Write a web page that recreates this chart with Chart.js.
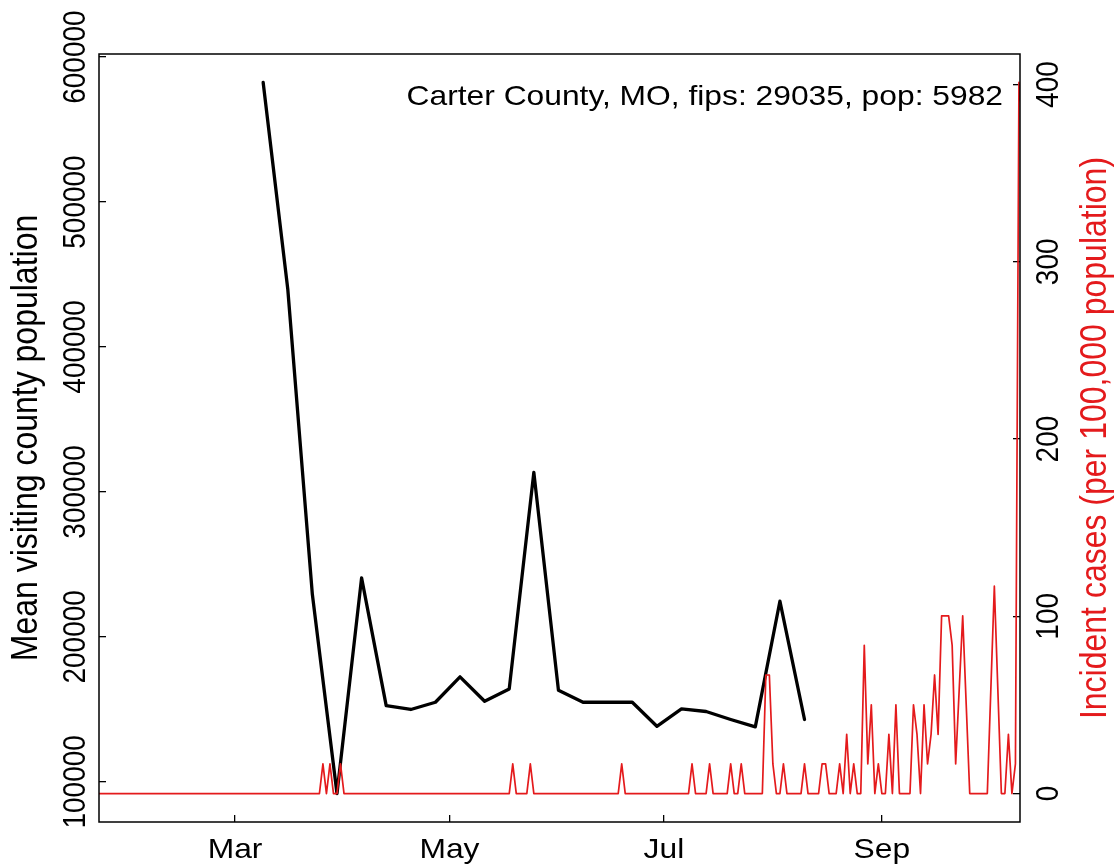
<!DOCTYPE html>
<html>
<head>
<meta charset="utf-8">
<script src="https://cdn.jsdelivr.net/npm/chart.js@4.4.1/dist/chart.umd.min.js"></script>
<style>
  html, body { margin: 0; padding: 0; background: #fff; }
  canvas { display: block; }
</style>
</head>
<body>
<canvas id="chart" width="1119" height="868"></canvas>
<script>
const countyLabel = 'Carter County, MO, fips: 29035, pop: 5982';
const leftTitle = 'Mean visiting county population';
const rightTitle = 'Incident cases (per 100,000 population)';

// weekly mean visiting county population (black line)
const visitDates = ['2020-03-09', '2020-03-16', '2020-03-23', '2020-03-30', '2020-04-06', '2020-04-13',
  '2020-04-20', '2020-04-27', '2020-05-04', '2020-05-11', '2020-05-18', '2020-05-25', '2020-06-01',
  '2020-06-08', '2020-06-15', '2020-06-22', '2020-06-29', '2020-07-06', '2020-07-13', '2020-07-20',
  '2020-07-27', '2020-08-03', '2020-08-10'];
const visitValues = [582500, 440000, 229200, 91900, 240700, 152600, 149900, 154900, 172400, 155600,
  164100, 313500, 163200, 154900, 154900, 154900, 138300, 150300, 148500, 143000, 137900, 224600, 143000];

// daily incident cases per 100k (red line), listed where the line changes
const caseDates = ['2020-01-22', '2020-03-25', '2020-03-26', '2020-03-27', '2020-03-28', '2020-03-29',
  '2020-03-30', '2020-03-31', '2020-04-01', '2020-05-18', '2020-05-19', '2020-05-20', '2020-05-23',
  '2020-05-24', '2020-05-25', '2020-06-18', '2020-06-19', '2020-06-20', '2020-07-08', '2020-07-09',
  '2020-07-10', '2020-07-13', '2020-07-14', '2020-07-15', '2020-07-19', '2020-07-20', '2020-07-21',
  '2020-07-22', '2020-07-23', '2020-07-24', '2020-07-29', '2020-07-30', '2020-07-31', '2020-08-01',
  '2020-08-02', '2020-08-03', '2020-08-04', '2020-08-05', '2020-08-09', '2020-08-10', '2020-08-11',
  '2020-08-14', '2020-08-15', '2020-08-16', '2020-08-17', '2020-08-19', '2020-08-20', '2020-08-21',
  '2020-08-22', '2020-08-23', '2020-08-24', '2020-08-25', '2020-08-26', '2020-08-27', '2020-08-28',
  '2020-08-29', '2020-08-30', '2020-08-31', '2020-09-01', '2020-09-02', '2020-09-03', '2020-09-04',
  '2020-09-05', '2020-09-06', '2020-09-09', '2020-09-10', '2020-09-11', '2020-09-12', '2020-09-13',
  '2020-09-14', '2020-09-15', '2020-09-16', '2020-09-17', '2020-09-18', '2020-09-19', '2020-09-20',
  '2020-09-21', '2020-09-22', '2020-09-23', '2020-09-24', '2020-09-25', '2020-09-26', '2020-10-01',
  '2020-10-02', '2020-10-03', '2020-10-04', '2020-10-05', '2020-10-06', '2020-10-07', '2020-10-08',
  '2020-10-09', '2020-10-10', '2020-10-11'];
const caseValues = [0, 0, 16.7, 0, 16.7, 0,
  0, 16.7, 0, 0, 16.7, 0, 0,
  16.7, 0, 0, 16.7, 0, 0, 16.7,
  0, 0, 16.7, 0, 0, 16.7, 0,
  0, 16.7, 0, 0, 66.9, 66.9, 16.7,
  0, 0, 16.7, 0, 0, 16.7, 0,
  0, 16.7, 16.7, 0, 0, 16.7, 0,
  33.4, 0, 16.7, 0, 0, 83.6, 16.7,
  50.1, 0, 16.7, 0, 0, 33.4, 0,
  50.1, 0, 0, 50.1, 33.4, 0, 50.1,
  16.7, 33.4, 66.9, 33.4, 100.3, 100.3, 100.3,
  83.6, 16.7, 58.5, 100.3, 50.1, 0, 0,
  58.5, 117, 58.5, 0, 0, 33.4, 0,
  16.7, 401.2, 380];

const monthTicks = ['2020-03-01', '2020-05-01', '2020-07-01', '2020-09-01'];
const monthLabels = ['Mar', 'May', 'Jul', 'Sep'];
const visitTicks = [100000, 200000, 300000, 400000, 500000, 600000];
const caseTicks = [0, 100, 200, 300, 400];

// day number counted from 1 Jan 2020
const dayNum = s => (Date.parse(s) - Date.parse('2020-01-01')) / 86400000;

const RED = '#e41a1c';
const FONT = '"Liberation Sans", Arial, sans-serif';
const STRETCH = 1.135; // glyphs in the reference are a bit wider than tall

function putText(ctx, txt, x, y, size, color, align, rot) {
  ctx.save();
  ctx.translate(x, y);
  ctx.scale(STRETCH, 1);
  if (rot) ctx.rotate(rot);
  ctx.font = size + 'px ' + FONT;
  ctx.fillStyle = color;
  ctx.textAlign = align;
  ctx.textBaseline = 'alphabetic';
  ctx.fillText(txt, 0, 0);
  ctx.restore();
}

const labelsPlugin = {
  id: 'rLabels',
  afterDraw(chart) {
    const ctx = chart.ctx;
    const a = chart.chartArea;
    const sx = chart.scales.x, sy = chart.scales.y, sy1 = chart.scales.y1;

    ctx.save();
    ctx.strokeStyle = '#000';
    ctx.lineWidth = 1.5;
    ctx.strokeRect(a.left, a.top, a.right - a.left, a.bottom - a.top);
    ctx.restore();

    monthTicks.forEach((d, i) => {
      putText(ctx, monthLabels[i], sx.getPixelForValue(dayNum(d)), a.bottom + 36, 28, '#000', 'center');
    });
    visitTicks.forEach(v => {
      putText(ctx, String(v), a.left - 14, sy.getPixelForValue(v), 28, '#000', 'center', -Math.PI / 2);
    });
    caseTicks.forEach(v => {
      putText(ctx, String(v), a.right + 38, sy1.getPixelForValue(v), 28, '#000', 'center', -Math.PI / 2);
    });

    const midY = (a.top + a.bottom) / 2;
    putText(ctx, leftTitle, 37, midY, 32, '#000', 'center', -Math.PI / 2);
    putText(ctx, rightTitle, 1106, midY, 32, RED, 'center', -Math.PI / 2);

    putText(ctx, countyLabel, a.right - 17, a.top + 51, 28, '#000', 'right');
  }
};

const tickGrid = { display: true, drawOnChartArea: false, drawTicks: true, tickLength: -7, color: '#000', lineWidth: 1.3 };

new Chart(document.getElementById('chart'), {
  type: 'line',
  data: {
    datasets: [{
      label: 'cases',
      data: caseDates.map((d, i) => ({ x: dayNum(d), y: caseValues[i] })),
      yAxisID: 'y1',
      borderColor: RED,
      borderWidth: 1.7,
      borderJoinStyle: 'round',
      pointRadius: 0,
      tension: 0,
      clip: 0
    }, {
      label: 'visits',
      data: visitDates.map((d, i) => ({ x: dayNum(d), y: visitValues[i] })),
      yAxisID: 'y',
      borderColor: '#000',
      borderWidth: 3.3,
      borderJoinStyle: 'round',
      borderCapStyle: 'round',
      pointRadius: 0,
      tension: 0,
      clip: 0
    }]
  },
  options: {
    responsive: false,
    animation: false,
    events: [],
    layout: { padding: { top: 54, left: 0, right: 0, bottom: 0 } },
    plugins: { legend: { display: false }, tooltip: { enabled: false } },
    scales: {
      x: {
        type: 'linear',
        position: 'bottom',
        min: 21.3,
        max: 283.3,
        grid: tickGrid,
        border: { display: false },
        ticks: { display: false },
        afterBuildTicks: s => { s.ticks = monthTicks.map(d => ({ value: dayNum(d) })); },
        afterFit: s => { s.height = 46; }
      },
      y: {
        type: 'linear',
        position: 'left',
        min: 72276,
        max: 602124,
        grid: tickGrid,
        border: { display: false },
        ticks: { display: false },
        afterBuildTicks: s => { s.ticks = visitTicks.map(v => ({ value: v })); },
        afterFit: s => { s.width = 99; }
      },
      y1: {
        type: 'linear',
        position: 'right',
        min: -16.05,
        max: 417.25,
        grid: tickGrid,
        border: { display: false },
        ticks: { display: false },
        afterBuildTicks: s => { s.ticks = caseTicks.map(v => ({ value: v })); },
        afterFit: s => { s.width = 99; }
      }
    }
  },
  plugins: [labelsPlugin]
});
</script>
</body>
</html>
